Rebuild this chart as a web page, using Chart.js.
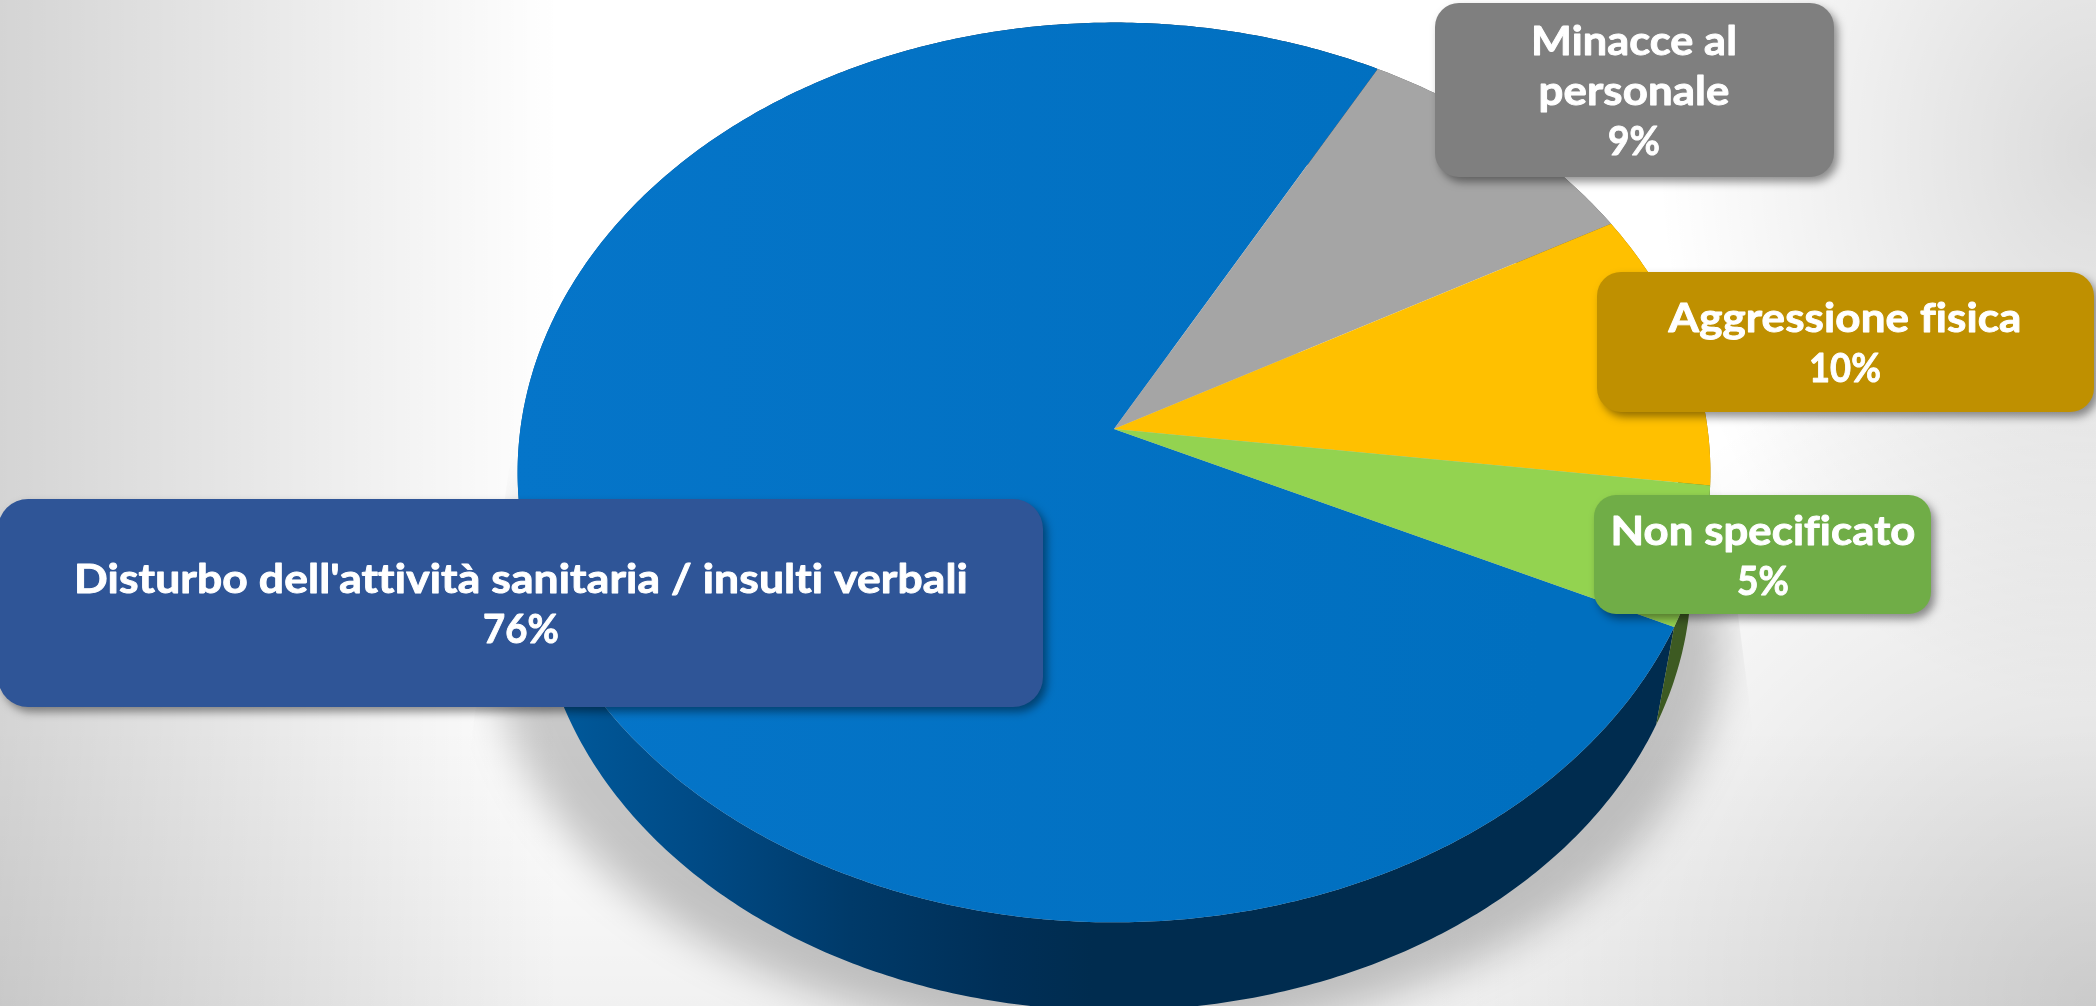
<!DOCTYPE html>
<html lang="it">
<head>
<meta charset="utf-8">
<title>Aggressioni</title>
<style>
html,body{margin:0;padding:0;width:2096px;height:1006px;overflow:hidden;background-color:#fff;
background-image:
 linear-gradient(to right,rgba(0,0,0,.17) 0,rgba(0,0,0,0) 560px),
 radial-gradient(circle 680px at 2096px 1006px,rgba(0,0,0,.16) 0,rgba(0,0,0,0) 100%),
 radial-gradient(ellipse 440px 560px at 2096px 150px,rgba(0,0,0,.14) 0,rgba(0,0,0,0) 100%),
 linear-gradient(to top,rgba(0,0,0,.055) 0,rgba(0,0,0,0) 280px);}
canvas{display:block}
</style>
<script src="https://cdn.jsdelivr.net/npm/chart.js@4"></script>
</head>
<body>
<canvas id="c" width="2096" height="1006"></canvas>
<script>
// ---- data ----
const categories = ["Disturbo dell'attività sanitaria / insulti verbali", "Minacce al personale", "Aggressione fisica", "Non specificato"];
const percentages = [76, 9, 10, 5];
const categoryLines = [
  ["Disturbo dell'attività sanitaria / insulti verbali"],
  ["Minacce al", "personale"],
  ["Aggressione fisica"],
  ["Non specificato"]
];
// ---- styles ----
const sliceColors = ['#0271c3', '#a5a5a5', '#ffc000', '#93d350'];
const wallColors  = ['#002c4f', '#5f5f5f', '#8f6c00', '#3d5a22'];
const boxColors   = ['#2f5597', '#7f7f7f', '#bf9000', '#70ad47'];
// box: x, y, w, h, r; text centre x, first baseline, line gap, width of each line
const boxLayout = [
  {x:-2,   y:499, w:1045, h:208, r:30, cx:521,  base:593, gap:50, widths:[894, 76]},
  {x:1435, y:3,   w:399,  h:174, r:24, cx:1634, base:55,  gap:50, widths:[206, 191, 52]},
  {x:1597, y:272, w:497,  h:140, r:24, cx:1845, base:332, gap:50, widths:[353, 72]},
  {x:1594, y:495, w:337,  h:119, r:22, cx:1763, base:545, gap:50, widths:[305, 52]}
];
// perspective of the tilted pie, in units of the chart's own radius
const tilt = {k:0.0966, sx:1.3837, sy:1.0389, wallScale:0.968, wallDrop:104};
// floor shadow: soft ellipse cut by a cone
const shadowEllipse = {cx:1108, cy:640, rx:615, ry:400, blur:20};
const shadowCone = [[525,353],[434,1006],[1789,1006],[1704,353]];

function project(arc, t, lower){
  const u = Math.cos(t), v = -Math.sin(t), d = 1 + tilt.k * v;
  const s = (lower ? tilt.wallScale : 1) * arc.outerRadius;
  return {
    x: arc.x + s * tilt.sx * u / d,
    y: arc.y + (lower ? tilt.wallDrop : 0) - s * tilt.sy * v / d
  };
}
function rimPath(ctx, arc, a, b, lower, first){
  const n = Math.max(8, Math.ceil(Math.abs(b - a) / 0.01));
  for (let i = 0; i <= n; i++){
    const p = project(arc, a + (b - a) * i / n, lower);
    if (i === 0 && first) ctx.moveTo(p.x, p.y); else ctx.lineTo(p.x, p.y);
  }
}
const tiltedPie = {
  id: 'tiltedPie',
  beforeDatasetsDraw(chart){
    const ctx = chart.ctx, arcs = chart.getDatasetMeta(0).data;
    // floor shadow
    ctx.save();
    ctx.beginPath();
    shadowCone.forEach((p, i) => i ? ctx.lineTo(p[0], p[1]) : ctx.moveTo(p[0], p[1]));
    ctx.closePath();
    ctx.clip();
    const se = shadowEllipse;
    ctx.filter = 'blur(' + se.blur + 'px)';
    ctx.fillStyle = 'rgba(0,0,0,0.215)';
    ctx.beginPath();
    ctx.ellipse(se.cx, se.cy, se.rx, se.ry, 0, 0, Math.PI * 2);
    ctx.fill();
    ctx.restore();
    // side walls
    arcs.forEach((arc, i) => {
      ctx.beginPath();
      rimPath(ctx, arc, arc.startAngle, arc.endAngle, false, true);
      rimPath(ctx, arc, arc.endAngle, arc.startAngle, true, false);
      ctx.closePath();
      if (i === 0){
        const g = ctx.createLinearGradient(arc.x - arc.outerRadius * 1.3, 0, arc.x - arc.outerRadius * 0.05, 0);
        g.addColorStop(0, '#00599b');
        g.addColorStop(0.27, '#004a85');
        g.addColorStop(0.55, '#003a69');
        g.addColorStop(0.83, '#002f57');
        g.addColorStop(1, wallColors[0]);
        ctx.fillStyle = g;
      } else ctx.fillStyle = wallColors[i];
      ctx.fill();
    });
    // top faces
    arcs.forEach((arc, i) => {
      ctx.beginPath();
      ctx.moveTo(arc.x, arc.y);
      rimPath(ctx, arc, arc.startAngle, arc.endAngle, false, false);
      ctx.closePath();
      if (i === 0){
        const g = ctx.createLinearGradient(arc.x - arc.outerRadius * 1.4, 0, arc.x + arc.outerRadius, 0);
        g.addColorStop(0, '#0575c9');
        g.addColorStop(1, '#006fbf');
        ctx.fillStyle = g;
      } else ctx.fillStyle = sliceColors[i];
      ctx.fill();
    });
    return false;
  },
  afterDraw(chart){
    const ctx = chart.ctx;
    percentages.forEach((value, i) => {
      const b = boxLayout[i];
      ctx.save();
      ctx.shadowColor = 'rgba(0,0,0,0.42)';
      ctx.shadowBlur = 9;
      ctx.shadowOffsetX = 4;
      ctx.shadowOffsetY = 5;
      ctx.fillStyle = boxColors[i];
      ctx.beginPath();
      ctx.roundRect(b.x, b.y, b.w, b.h, b.r);
      ctx.fill();
      ctx.restore();
      categoryLines[i].concat(value + '%').forEach((line, j) => {
        ctx.save();
        ctx.fillStyle = '#ffffff';
        ctx.strokeStyle = '#ffffff';
        ctx.lineWidth = 0.9;
        ctx.lineJoin = 'round';
        ctx.font = 'bold 40px Lato, sans-serif';
        ctx.letterSpacing = '0.1px';
        ctx.textAlign = 'center';
        ctx.textBaseline = 'alphabetic';
        const natural = ctx.measureText(line).width;
        ctx.translate(b.cx, b.base + j * b.gap);
        ctx.scale(b.widths[j] / natural, 1);
        ctx.fillText(line, 0, 0);
        ctx.strokeText(line, 0, 0);
        ctx.restore();
      });
    });
  }
};
new Chart(document.getElementById('c'), {
  type: 'pie',
  data: {
    labels: categories,
    datasets: [{ data: percentages, backgroundColor: sliceColors, borderWidth: 0 }]
  },
  options: {
    responsive: false,
    animation: false,
    rotation: 115.2,
    layout: { padding: { left: 132, right: 0, top: 0, bottom: 148 } },
    plugins: { legend: { display: false }, tooltip: { enabled: false } }
  },
  plugins: [tiltedPie]
});
</script>
</body>
</html>
